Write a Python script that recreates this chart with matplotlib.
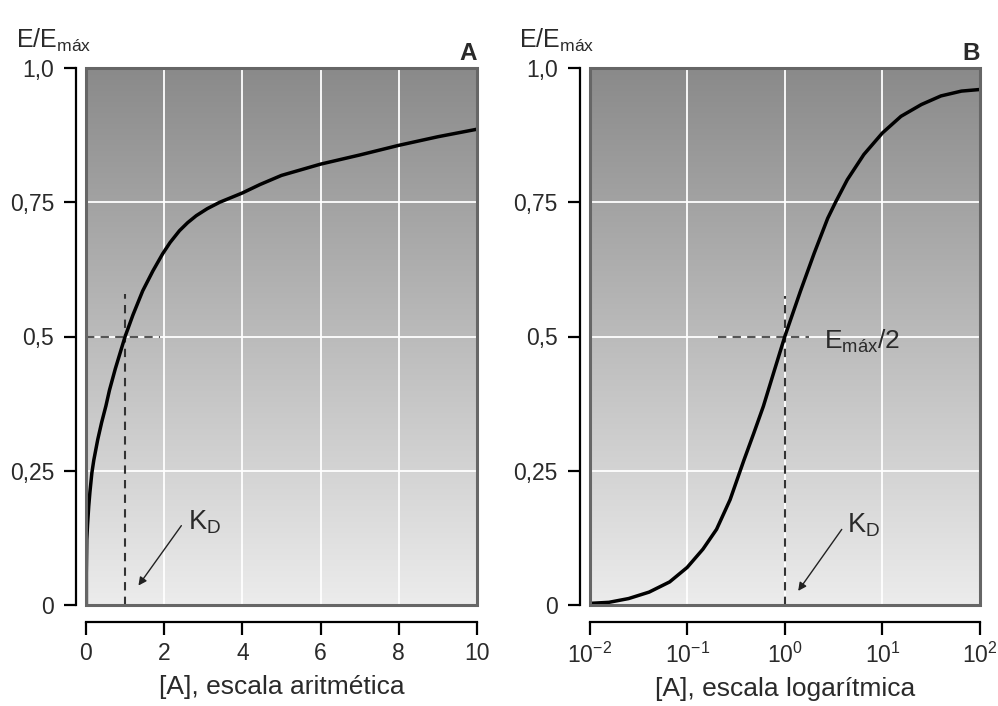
import numpy as np
import matplotlib
matplotlib.use("Agg")
import matplotlib.pyplot as plt
from matplotlib.patches import Rectangle
from matplotlib.colors import LinearSegmentedColormap
from matplotlib.ticker import FixedLocator, FixedFormatter

FONT = 'Liberation Sans'
plt.rcParams['font.family'] = [FONT, 'DejaVu Sans']
plt.rcParams['mathtext.fontset'] = 'custom'
plt.rcParams['mathtext.rm'] = FONT
plt.rcParams['mathtext.it'] = FONT
plt.rcParams['mathtext.bf'] = FONT + ':bold'
plt.rcParams['axes.unicode_minus'] = True

# ---- data ----
A_x = [0.01, 0.01, 0.02, 0.04, 0.07, 0.10, 0.15, 0.20, 0.30, 0.40, 0.51, 0.60, 0.75,
       1.0, 1.20, 1.45, 1.71, 1.96, 2.15, 2.39, 2.60, 2.82, 3.10, 3.42, 3.99, 4.45,
       5.0, 6.0, 7.0, 8.0, 9.0, 10.0]
A_y = [0.0, 0.06, 0.122, 0.15, 0.184, 0.21, 0.246, 0.27, 0.308, 0.34, 0.371, 0.40, 0.44,
       0.50, 0.54, 0.585, 0.622, 0.654, 0.675, 0.697, 0.712, 0.725, 0.738, 0.75, 0.767, 0.783,
       0.800, 0.821, 0.838, 0.856, 0.872, 0.886]

B_x = [0.01, 0.0158, 0.0251, 0.0407, 0.0661, 0.1, 0.145, 0.200, 0.275, 0.324, 0.380,
       0.479, 0.603, 0.776, 1.0, 1.45, 2.0, 2.75, 3.31, 4.37, 6.46, 10.0, 15.5, 25.1,
       39.8, 64.6, 100.0]
B_y = [0.003, 0.005, 0.012, 0.024, 0.043, 0.070, 0.104, 0.141, 0.196, 0.233, 0.269,
       0.319, 0.37, 0.435, 0.50, 0.585, 0.655, 0.72, 0.75, 0.792, 0.839, 0.879, 0.910,
       0.932, 0.948, 0.957, 0.96]

y_ticks = [0, 0.25, 0.5, 0.75, 1.0]
y_labels = ['0', '0,25', '0,5', '0,75', '1,0']
A_xticks = [0, 2, 4, 6, 8, 10]
A_xlabels = ['0', '2', '4', '6', '8', '10']
B_xticks = [0.01, 0.1, 1, 10, 100]
B_xlabels = [r'$10^{-2}$', r'$10^{-1}$', r'$10^{0}$', r'$10^{1}$', r'$10^{2}$']

KD = 1.0
half = 0.5
TXT = '#2a2a2a'

fig = plt.figure(figsize=(9.98, 7.06), dpi=100)
fig.patch.set_facecolor('white')

cmap = LinearSegmentedColormap.from_list('bg', ['#ececec', '#8a8a8a'])
grad = np.linspace(0, 1, 256).reshape(-1, 1)

def style_axes(ax, panel, ylab_x):
    ax.imshow(grad, extent=[0, 1, 0, 1], transform=ax.transAxes, cmap=cmap,
              origin='lower', aspect='auto', zorder=0, interpolation='bicubic')
    for s in ['top', 'right']:
        ax.spines[s].set_visible(False)
    ax.spines['left'].set_position(('outward', 7))
    ax.spines['bottom'].set_position(('outward', 12))
    ax.spines['left'].set_linewidth(1.6)
    ax.spines['bottom'].set_linewidth(1.6)
    ax.tick_params(axis='both', length=9, width=1.6, color='black', labelsize=16.5,
                   labelcolor=TXT)
    ax.tick_params(axis='y', pad=7)
    ax.tick_params(axis='x', pad=6)
    ax.add_patch(Rectangle((0, 0), 1, 1, transform=ax.transAxes, fill=False,
                           edgecolor='#666666', linewidth=2.2, zorder=5, clip_on=False))
    ax.set_ylim(0, 1)
    ax.yaxis.set_major_locator(FixedLocator(y_ticks))
    ax.yaxis.set_major_formatter(FixedFormatter(y_labels))
    for yv in y_ticks[1:4]:
        ax.axhline(yv, color='white', lw=1.3, zorder=1)
    ax.text(ylab_x, 1.037, r'E/E$_{\mathrm{máx}}$', transform=ax.transAxes,
            ha='left', va='baseline', fontsize=18, color=TXT)
    ax.text(1.0, 1.015, panel, transform=ax.transAxes, ha='right', va='baseline',
            fontsize=17.5, fontweight='bold', color=TXT)

# ---- Panel A ----
axA = fig.add_axes([86 / 998, 101 / 706, 391 / 998, 537 / 706])
style_axes(axA, 'A', -0.178)
axA.set_xlim(0, 10)
axA.xaxis.set_major_locator(FixedLocator(A_xticks))
axA.xaxis.set_major_formatter(FixedFormatter(A_xlabels))
for xv in A_xticks[1:5]:
    axA.axvline(xv, color='white', lw=1.3, zorder=1)
axA.plot(A_x, A_y, color='black', lw=2.5, zorder=4, solid_joinstyle='round')
axA.plot([KD, KD], [0, 0.58], color='#333333', lw=1.5, ls=(0, (4, 3)), zorder=3)
axA.plot([0, 1.9], [half, half], color='#555555', lw=1.5, ls=(0, (4, 3)), zorder=3)
axA.annotate('', xy=(1.3, 0.032), xytext=(2.48, 0.152),
             arrowprops=dict(arrowstyle='-|>', color='#222222', lw=1.0,
                             mutation_scale=12), zorder=4)
axA.text(2.62, 0.155, r'K$_{\mathrm{D}}$', fontsize=19.5, ha='left', va='center',
         zorder=4, color=TXT)
axA.set_xlabel('[A], escala aritmética', fontsize=19, labelpad=7, color=TXT)

# ---- Panel B ----
axB = fig.add_axes([589.6 / 998, 101 / 706, 390.4 / 998, 537 / 706])
style_axes(axB, 'B', -0.18)
axB.set_xscale('log')
axB.set_xlim(0.01, 100)
axB.xaxis.set_major_locator(FixedLocator(B_xticks))
axB.xaxis.set_major_formatter(FixedFormatter(B_xlabels))
axB.xaxis.set_minor_locator(FixedLocator([]))
for xv in B_xticks[1:4]:
    axB.axvline(xv, color='white', lw=1.3, zorder=1)
axB.plot(B_x, B_y, color='black', lw=2.5, zorder=4, solid_joinstyle='round')
axB.plot([KD, KD], [0, 0.575], color='#333333', lw=1.5, ls=(0, (4, 3)), zorder=3)
axB.plot([0.205, 1.75], [half, half], color='#555555', lw=1.5, ls=(0, (4, 3)), zorder=3)
axB.text(2.55, half - 0.01, r'E$_{\mathrm{máx}}$/2', fontsize=19, ha='left', va='center',
         zorder=4, color=TXT)
axB.annotate('', xy=(1.32, 0.022), xytext=(3.98, 0.145),
             arrowprops=dict(arrowstyle='-|>', color='#222222', lw=1.0,
                             mutation_scale=12), zorder=4)
axB.text(4.3, 0.148, r'K$_{\mathrm{D}}$', fontsize=19.5, ha='left', va='center',
         zorder=4, color=TXT)
axB.set_xlabel('[A], escala logarítmica', fontsize=19, labelpad=7, color=TXT)

fig.savefig('out.png', dpi=100, facecolor='white')
